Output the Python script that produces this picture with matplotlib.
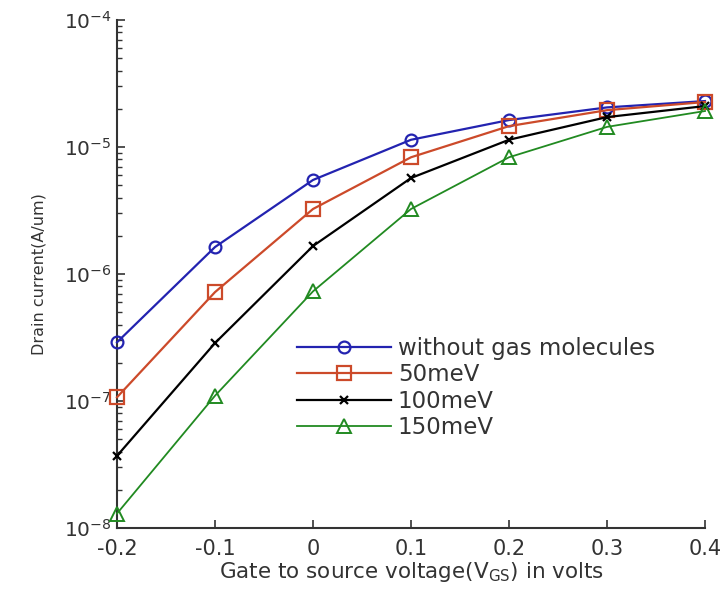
import matplotlib
matplotlib.use("Agg")
import matplotlib.pyplot as plt
from matplotlib.ticker import LogLocator, FixedLocator

plt.rcParams['font.family'] = ['DejaVu Sans']
plt.rcParams['mathtext.fontset'] = 'dejavusans'

vgs = [-0.2, -0.1, 0.0, 0.1, 0.2, 0.3, 0.4]
without_gas = [2.9e-7, 1.63e-6, 5.5e-6, 1.14e-5, 1.63e-5, 2.05e-5, 2.3e-5]
mev50 = [1.07e-7, 7.2e-7, 3.25e-6, 8.3e-6, 1.46e-5, 1.95e-5, 2.26e-5]
mev100 = [3.7e-8, 2.86e-7, 1.66e-6, 5.7e-6, 1.14e-5, 1.72e-5, 2.1e-5]
mev150 = [1.3e-8, 1.1e-7, 7.3e-7, 3.25e-6, 8.3e-6, 1.44e-5, 1.92e-5]
labels = ["without gas molecules", "50meV", "100meV", "150meV"]
xticks = [-0.2, -0.1, 0.0, 0.1, 0.2, 0.3, 0.4]
xticklabels = ["-0.2", "-0.1", "0", "0.1", "0.2", "0.3", "0.4"]

fig = plt.figure(figsize=(7.23, 5.92), dpi=100)
ax = fig.add_axes([117/723, 1-528/592, (705-117)/723, (528-20)/592])

styles = [
    dict(color='#2323b0', marker='o', ms=8.5, mfc='none', mew=1.6, lw=1.6),
    dict(color='#cc4a2a', marker='s', ms=9.5, mfc='none', mew=1.6, lw=1.6),
    dict(color='#000000', marker='x', ms=5.5, mew=1.6, lw=1.6),
    dict(color='#218a21', marker='^', ms=10, mfc='none', mew=1.4, lw=1.3),
]
for ys, lab, st in zip([without_gas, mev50, mev100, mev150], labels, styles):
    ax.plot(vgs, ys, label=lab, clip_on=False, zorder=3, **st)

ax.set_yscale('log')
ax.set_xlim(-0.2, 0.4)
ax.set_ylim(1e-8, 1e-4)
ax.xaxis.set_major_locator(FixedLocator(xticks))
ax.set_xticklabels(xticklabels)
ax.yaxis.set_major_locator(LogLocator(base=10, numticks=10))
ax.yaxis.set_minor_locator(LogLocator(base=10, subs=range(2, 10), numticks=20))

for s in ['top', 'right']:
    ax.spines[s].set_visible(False)
for s in ['left', 'bottom']:
    ax.spines[s].set_linewidth(1.5)
    ax.spines[s].set_color('#333333')

ax.tick_params(axis='both', which='major', direction='in', length=6, width=1.2,
               colors='#333333', labelcolor='#333333')
ax.tick_params(axis='x', which='major', labelsize=15, pad=8)
ax.tick_params(axis='y', which='major', labelsize=14.5, pad=4)
ax.tick_params(axis='y', which='minor', direction='in', length=3.5, width=1.0, colors='#333333')

ax.set_xlabel(r"Gate to source voltage(V$_{\mathrm{GS}}$) in volts", fontsize=15.5, color='#333333', labelpad=1)
ax.set_ylabel("Drain current(A/um)", fontsize=11.5, color='#333333', labelpad=12)

ax.legend(loc='upper left', bbox_to_anchor=(297/723, 1-337/592), bbox_transform=fig.transFigure,
          frameon=False, fontsize=16.5, handlelength=4.1, handletextpad=0.3,
          labelspacing=0.15, borderpad=0, borderaxespad=0, labelcolor='#333333')

fig.savefig("out.png", dpi=100, facecolor='white')
